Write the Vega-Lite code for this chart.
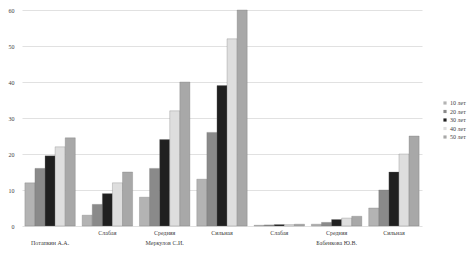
{
  "$schema": "https://vega.github.io/schema/vega-lite/v6.json",
  "width": 400,
  "height": 216,
  "autosize": "none",
  "padding": {"left": 22, "top": 10, "right": 48, "bottom": 27},
  "background": "white",
  "config": {"view": {"stroke": null}, "font": "Liberation Serif"},
  "data": {"values": [
    {"key": "1||Потапкин А.А.", "series": "10 лет", "value": 12},
    {"key": "1||Потапкин А.А.", "series": "20 лет", "value": 16},
    {"key": "1||Потапкин А.А.", "series": "30 лет", "value": 19.5},
    {"key": "1||Потапкин А.А.", "series": "40 лет", "value": 22},
    {"key": "1||Потапкин А.А.", "series": "50 лет", "value": 24.5},
    {"key": "2|Слабая|", "series": "10 лет", "value": 3},
    {"key": "2|Слабая|", "series": "20 лет", "value": 6},
    {"key": "2|Слабая|", "series": "30 лет", "value": 9},
    {"key": "2|Слабая|", "series": "40 лет", "value": 12},
    {"key": "2|Слабая|", "series": "50 лет", "value": 15},
    {"key": "3|Средняя|Меркулов С.И.", "series": "10 лет", "value": 8},
    {"key": "3|Средняя|Меркулов С.И.", "series": "20 лет", "value": 16},
    {"key": "3|Средняя|Меркулов С.И.", "series": "30 лет", "value": 24},
    {"key": "3|Средняя|Меркулов С.И.", "series": "40 лет", "value": 32},
    {"key": "3|Средняя|Меркулов С.И.", "series": "50 лет", "value": 40},
    {"key": "4|Сильная|", "series": "10 лет", "value": 13},
    {"key": "4|Сильная|", "series": "20 лет", "value": 26},
    {"key": "4|Сильная|", "series": "30 лет", "value": 39},
    {"key": "4|Сильная|", "series": "40 лет", "value": 52},
    {"key": "4|Сильная|", "series": "50 лет", "value": 60},
    {"key": "5|Слабая|", "series": "10 лет", "value": 0.2},
    {"key": "5|Слабая|", "series": "20 лет", "value": 0.3},
    {"key": "5|Слабая|", "series": "30 лет", "value": 0.4},
    {"key": "5|Слабая|", "series": "40 лет", "value": 0.4},
    {"key": "5|Слабая|", "series": "50 лет", "value": 0.5},
    {"key": "6|Средняя|Бабенкова Ю.В.", "series": "10 лет", "value": 0.5},
    {"key": "6|Средняя|Бабенкова Ю.В.", "series": "20 лет", "value": 1},
    {"key": "6|Средняя|Бабенкова Ю.В.", "series": "30 лет", "value": 1.8},
    {"key": "6|Средняя|Бабенкова Ю.В.", "series": "40 лет", "value": 2.2},
    {"key": "6|Средняя|Бабенкова Ю.В.", "series": "50 лет", "value": 2.7},
    {"key": "7|Сильная|", "series": "10 лет", "value": 5},
    {"key": "7|Сильная|", "series": "20 лет", "value": 10},
    {"key": "7|Сильная|", "series": "30 лет", "value": 15},
    {"key": "7|Сильная|", "series": "40 лет", "value": 20},
    {"key": "7|Сильная|", "series": "50 лет", "value": 25}
  ]},
  "mark": {"type": "bar", "stroke": "#707070", "strokeWidth": 0.3},
  "encoding": {
    "x": {
      "field": "key", "type": "nominal", "sort": null,
      "scale": {"paddingInner": 0.12, "paddingOuter": 0.05},
      "axis": {
        "title": null, "labelAngle": 0, "domain": false, "ticks": false,
        "labelExpr": "[split(datum.value,'|')[1], split(datum.value,'|')[2]]",
        "labelFontSize": 6, "labelColor": "#404040", "labelPadding": 3,
        "labelLineHeight": 10, "labelBaseline": "top"
      }
    },
    "xOffset": {"field": "series", "type": "nominal", "sort": ["10 лет", "20 лет", "30 лет", "40 лет", "50 лет"]},
    "y": {
      "field": "value", "type": "quantitative",
      "scale": {"domain": [0, 60], "nice": false},
      "axis": {
        "title": null, "domain": false, "ticks": false, "values": [0, 10, 20, 30, 40, 50, 60],
        "labelFontSize": 6, "labelColor": "#404040", "labelPadding": 8,
        "gridColor": "#d9d9d9", "gridWidth": 0.8
      }
    },
    "color": {
      "field": "series", "type": "nominal",
      "sort": ["10 лет", "20 лет", "30 лет", "40 лет", "50 лет"],
      "scale": {"domain": ["10 лет", "20 лет", "30 лет", "40 лет", "50 лет"], "range": ["#b3b3b3", "#8a8a8a", "#202020", "#dedede", "#a8a8a8"]},
      "legend": {
        "title": null, "orient": "none", "legendX": 420, "legendY": 90,
        "symbolType": "square", "symbolSize": 10, "symbolStrokeWidth": 0, "labelFontSize": 6,
        "labelColor": "#404040", "rowPadding": 2.5, "labelOffset": 2
      }
    }
  }
}
